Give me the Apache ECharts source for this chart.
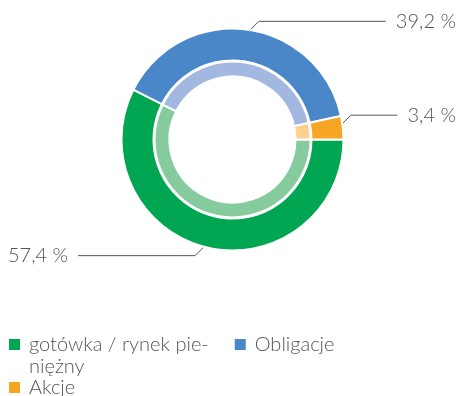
<!DOCTYPE html>
<html>
<head>
<meta charset="utf-8">
<script src="https://cdn.jsdelivr.net/npm/echarts@6/dist/echarts.min.js"></script>
<style>
  html, body { margin: 0; padding: 0; background: #fff; }
  #chart { width: 459px; height: 396px; }
</style>
</head>
<body>
<div id="chart"></div>
<script>
// Portfolio structure: asset classes and their shares (%)
const categories = ['gotówka / rynek pieniężny', 'Obligacje', 'Akcje'];
const shares = [57.4, 39.2, 3.4];
const shareLabels = ['57,4 %', '39,2 %', '3,4 %'];
// The leading empty line keeps the first text line level with the legend square
const legendLabels = ['\ngotówka / rynek pie-\nniężny', 'Obligacje', 'Akcje'];

const outerColors = ['#00a651', '#4a87c8', '#f6a623'];
const innerColors = ['#86cb9e', '#a3b8e0', '#fcd08f'];

const FONT = 'Lato';
const TEXT_COLOR = '#555555';
const FONT_SIZE = 20;
const LINE_H = 22;
const ICON = 13;

// connector: starts a little inside the ring, then a 45° kink, then horizontal
const CONNECTOR_INSET = 5;
const CONNECTOR_KINK = 13;

const chart = echarts.init(document.getElementById('chart'), null, { renderer: 'canvas' });

const outerData = categories.map((name, i) => ({
  name,
  value: shares[i],
  itemStyle: { color: outerColors[i] },
  label: {
    formatter: shareLabels[i],
    edgeDistance: i === 0 ? 8 : 3
  }
}));

const innerData = categories.map((name, i) => ({
  name,
  value: shares[i],
  itemStyle: { color: innerColors[i] }
}));

const legendText = {
  color: TEXT_COLOR,
  fontFamily: FONT,
  fontWeight: 300,
  fontSize: FONT_SIZE,
  lineHeight: LINE_H,
  padding: [0, 0, 0, 3]
};

function kinkedConnector(params) {
  const pts = params.labelLinePoints;
  if (!pts) return {};
  const p0 = pts[0], p1 = pts[1], p2 = pts[2];
  const vx = p1[0] - p0[0], vy = p1[1] - p0[1];
  const len = Math.hypot(vx, vy) || 1;
  const start = [p0[0] - vx / len * CONNECTOR_INSET, p0[1] - vy / len * CONNECTOR_INSET];
  const sx = p2[0] < p0[0] ? -1 : 1;
  const sy = vy < 0 ? -1 : 1;
  const bend = [start[0] + sx * CONNECTOR_KINK, start[1] + sy * CONNECTOR_KINK];
  return {
    y: bend[1],
    labelLinePoints: [start, bend, [p2[0], bend[1]]]
  };
}

const option = {
  animation: false,
  legend: [
    {
      orient: 'horizontal',
      left: 7,
      // legend box top = square top minus the part of the 3-line text above it
      top: 338 - (1.5 * LINE_H - ICON / 2),
      padding: 0,
      itemWidth: ICON,
      itemHeight: ICON,
      itemGap: 24,
      icon: 'rect',
      selectedMode: false,
      data: [categories[0], categories[1]],
      formatter: name => legendLabels[categories.indexOf(name)],
      textStyle: legendText
    },
    {
      orient: 'horizontal',
      left: 7,
      top: 381 - (0.5 * LINE_H - ICON / 2),
      padding: 0,
      itemWidth: ICON,
      itemHeight: ICON,
      icon: 'rect',
      selectedMode: false,
      data: [categories[2]],
      formatter: name => legendLabels[categories.indexOf(name)],
      textStyle: legendText
    }
  ],
  series: [
    {
      name: 'outer',
      type: 'pie',
      center: [232.5, 139.5],
      radius: [79, 111],
      startAngle: 0,
      clockwise: true,
      avoidLabelOverlap: true,
      itemStyle: { borderColor: '#ffffff', borderWidth: 2 },
      label: {
        show: true,
        position: 'outer',
        alignTo: 'edge',
        color: TEXT_COLOR,
        fontFamily: FONT,
        fontWeight: 300,
        fontSize: FONT_SIZE,
        distanceToLabelLine: 10
      },
      labelLine: {
        show: true,
        length: 12,
        lineStyle: { color: '#555555', width: 1 }
      },
      labelLayout: kinkedConnector,
      emphasis: { disabled: true },
      data: outerData
    },
    {
      name: 'inner',
      type: 'pie',
      center: [232.5, 139.5],
      radius: [63, 78],
      startAngle: 0,
      clockwise: true,
      itemStyle: { borderColor: '#ffffff', borderWidth: 2 },
      label: { show: false },
      labelLine: { show: false },
      emphasis: { disabled: true },
      data: innerData
    }
  ]
};

chart.setOption(option);
</script>
</body>
</html>
